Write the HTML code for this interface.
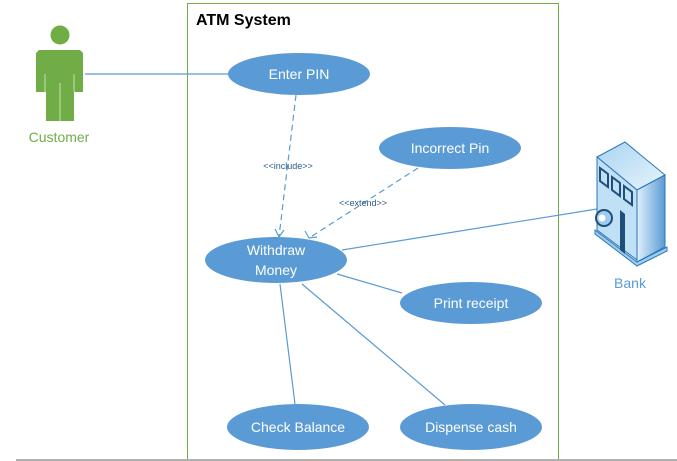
<!DOCTYPE html>
<html><head><style>body{margin:0;background:#fff;}svg{display:block;font-family:"Liberation Sans",sans-serif;}</style></head>
<body>
<svg width="677" height="461" xmlns="http://www.w3.org/2000/svg">
<defs>
<linearGradient id="g1" x1="0" x2="1"><stop offset="0" stop-color="#dff0fb"/><stop offset="1" stop-color="#5a9bd5"/></linearGradient>
<linearGradient id="g2" x1="0" x2="1" y1="0" y2="1"><stop offset="0" stop-color="#a9d4f0"/><stop offset="1" stop-color="#e6f4fc"/></linearGradient>
</defs>
<rect x="187.5" y="3.5" width="371" height="470" fill="none" stroke="#70ad47" stroke-width="1"/>
<text x="196" y="25" font-size="16" font-weight="bold" fill="#000">ATM System</text>
<line x1="16" y1="460" x2="677" y2="460" stroke="#b0b0b0" stroke-width="2"/>
<!-- customer -->
<circle cx="60" cy="35" r="9.5" fill="#70ad47"/>
<path d="M39 50 H80 L83 53 V92 H74 V121 H46 V92 H36 V53 Z" fill="#70ad47"/>
<line x1="60" y1="83" x2="60" y2="121" stroke="#c5e0b4" stroke-width="1"/>
<line x1="45" y1="74" x2="45" y2="92" stroke="#c5e0b4"/><line x1="74" y1="74" x2="74" y2="92" stroke="#c5e0b4"/>
<text x="59" y="142" font-size="14" fill="#70ad47" text-anchor="middle">Customer</text>
<!-- lines -->
<g stroke="#5b9bd5" stroke-width="1.2" fill="none">
<line x1="85" y1="74" x2="229" y2="74"/>
<line x1="296" y1="95" x2="279" y2="237" stroke-dasharray="6,4"/>
<polyline points="275,229 279,237 284,230"/>
<line x1="418" y1="168" x2="309" y2="238" stroke-dasharray="6,4"/>
<polyline points="305,231 309,238 317,237"/>
<line x1="342" y1="250" x2="597" y2="209"/>
<line x1="337" y1="274" x2="402" y2="293"/>
<line x1="280" y1="284" x2="295" y2="404"/>
<line x1="302" y1="284" x2="445" y2="405"/>
</g>
<text x="288" y="169" font-size="9" fill="#2e5a8a" text-anchor="middle">&lt;&lt;include&gt;&gt;</text>
<text x="363" y="206" font-size="9" fill="#2e5a8a" text-anchor="middle">&lt;&lt;extend&gt;&gt;</text>
<!-- ellipses -->
<g fill="#5b9bd5">
<ellipse cx="299" cy="74" rx="71" ry="21"/>
<ellipse cx="450" cy="148" rx="71" ry="21"/>
<ellipse cx="276" cy="260" rx="71" ry="23"/>
<ellipse cx="471" cy="303" rx="71" ry="21"/>
<ellipse cx="298" cy="427" rx="71" ry="23"/>
<ellipse cx="471" cy="427" rx="71" ry="23"/>
</g>
<g fill="#fff" font-size="14" text-anchor="middle">
<text x="299" y="79">Enter PIN</text>
<text x="450" y="153">Incorrect Pin</text>
<text x="276" y="255">Withdraw</text>
<text x="276" y="275">Money</text>
<text x="471" y="308">Print receipt</text>
<text x="298" y="432">Check Balance</text>
<text x="471" y="432">Dispense cash</text>
</g>
<!-- bank -->
<g stroke="#2e75b6" stroke-width="1">
<path d="M597 157 L625 142 L665 175 L637 190 Z" fill="url(#g2)"/>
<path d="M597 157 L637 190 V260 L597 230 Z" fill="#bfe0f5"/>
<path d="M637 190 L665 175 V247 L637 262 Z" fill="url(#g1)"/>
<path d="M595 230 L637 262 L667 247 V251 L637 266 L595 234 Z" fill="#9dcdee"/>
</g>
<g fill="none" stroke="#1f4e79" stroke-width="2">
<path d="M600 168 l8 6 v13 l-8 -6 z"/><path d="M612 177 l8 6 v13 l-8 -6 z"/><path d="M624 186 l8 6 v13 l-8 -6 z"/>
</g>
<path d="M620 210 l5 4 v40 l-5 -4 z" fill="#1f4e79"/>
<circle cx="604" cy="218" r="8" fill="#9dcdee" stroke="#1f4e79" stroke-width="2"/>
<circle cx="602" cy="218" r="3.5" fill="#fff"/>
<text x="630" y="288" font-size="14" fill="#5b9bd5" text-anchor="middle">Bank</text>
</svg>
</body></html>
